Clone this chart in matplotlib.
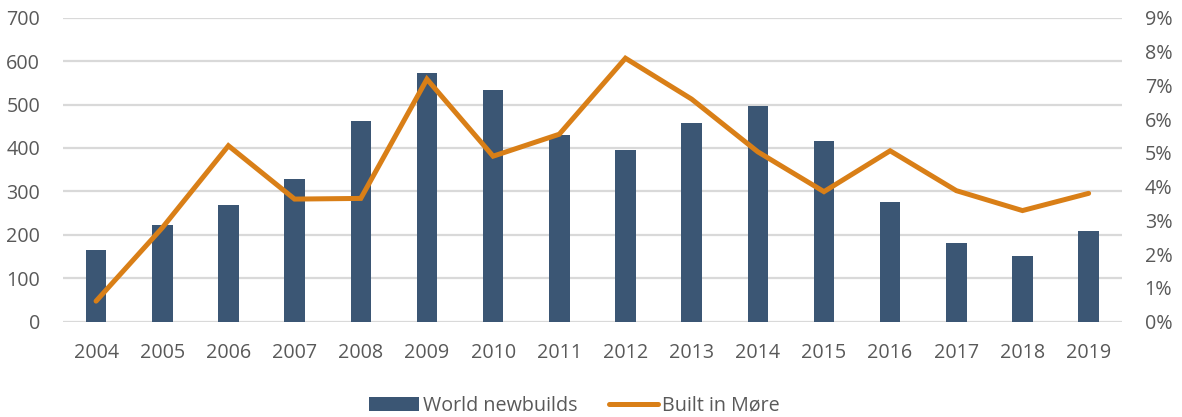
import numpy as np
import matplotlib.pyplot as plt
from matplotlib.ticker import PercentFormatter

years = ['2004', '2005', '2006', '2007', '2008', '2009', '2010', '2011',
         '2012', '2013', '2014', '2015', '2016', '2017', '2018', '2019']
world_newbuilds = [164, 223, 268, 328, 463, 572, 533, 431,
                   396, 457, 497, 417, 275, 181, 152, 210]
built_in_more = [0.61, 2.78, 5.21, 3.63, 3.65, 7.18, 4.90, 5.55,
                 7.80, 6.59, 5.03, 3.85, 5.06, 3.88, 3.29, 3.80]  # percent

bar_col = '#3b5674'
line_col = '#d97f17'
txt_col = '#595959'
grid_col = '#d9d9d9'

plt.rcParams['font.family'] = ['Open Sans', 'DejaVu Sans']
plt.rcParams['font.size'] = 14.2

fig = plt.figure(figsize=(11.82, 4.17), dpi=100)
ax = fig.add_axes([0.0533, 0.2285, 0.8957, 0.7291])
ax2 = ax.twinx()

x = np.arange(len(years))
ax.bar(x, world_newbuilds, width=0.31, color=bar_col, zorder=2,
       label='World newbuilds')
ax.set_ylim(0, 700)
ax.set_yticks(range(0, 701, 100))
ax.set_xlim(-0.5, len(years) - 0.5)
ax.set_xticks(x)
ax.set_xticklabels(years)
ax.yaxis.grid(True, color=grid_col, linewidth=1.6, zorder=0)
ax.set_axisbelow(True)

ax2.plot(x, built_in_more, color=line_col, linewidth=3.6,
         solid_capstyle='round', solid_joinstyle='miter', zorder=3,
         label='Built in Møre')
ax2.set_ylim(0, 9)
ax2.set_yticks(range(0, 10))
ax2.yaxis.set_major_formatter(PercentFormatter(decimals=0))

for a in (ax, ax2):
    for s in a.spines.values():
        s.set_visible(False)
    a.tick_params(length=0, colors=txt_col, labelsize=14.2)
ax.tick_params(axis='y', pad=16.5)
ax2.tick_params(axis='y', pad=16.5)
ax.tick_params(axis='x', pad=15)

h1, l1 = ax.get_legend_handles_labels()
h2, l2 = ax2.get_legend_handles_labels()
leg = fig.legend(h1 + h2, l1 + l2, loc='center', bbox_to_anchor=(0.486, 0.027),
                 ncol=2, frameon=False, handlelength=2.5, handleheight=0.75,
                 handletextpad=0.2, columnspacing=1.6, fontsize=14.2)
for t in leg.get_texts():
    t.set_color(txt_col)

fig.savefig('out.png', dpi=100)
